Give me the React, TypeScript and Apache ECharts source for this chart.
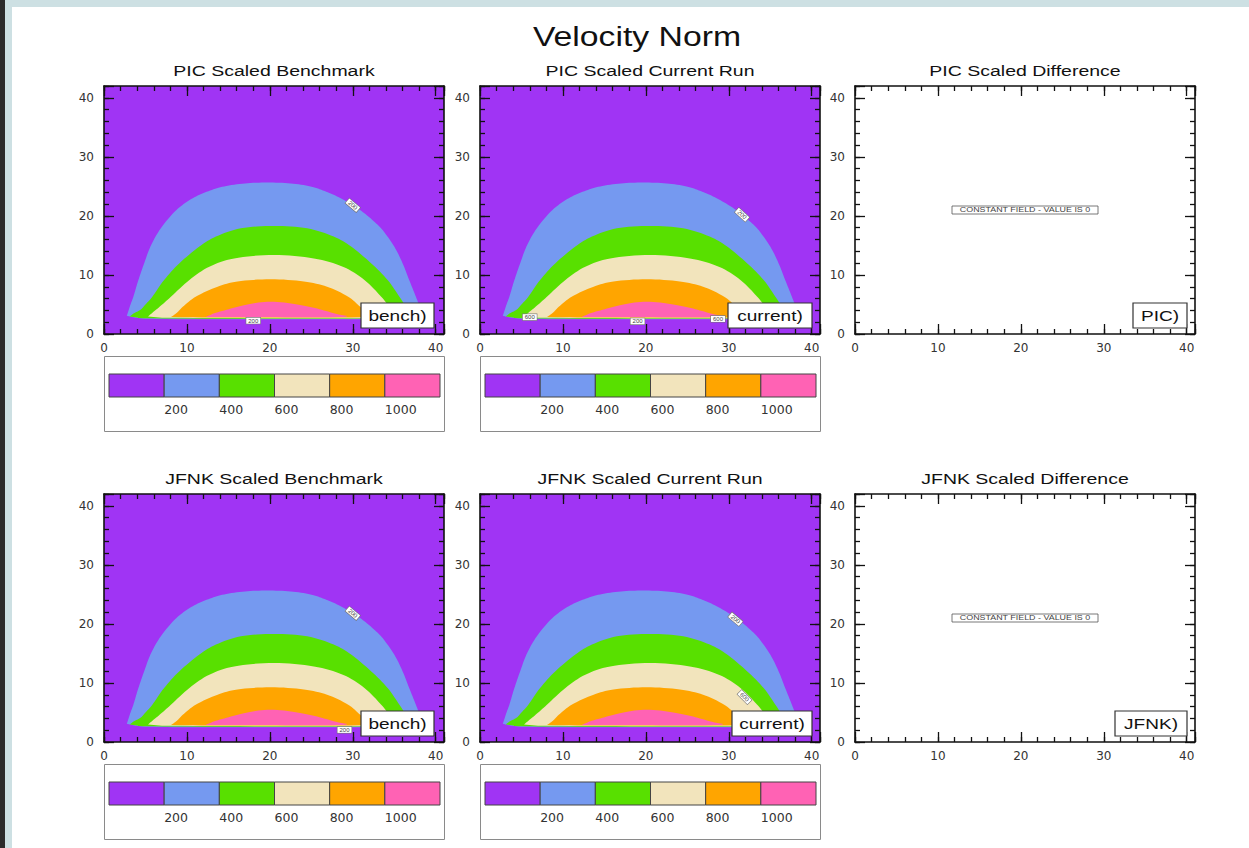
import { useEffect, useRef } from 'react';
import * as echarts from 'echarts';

// ---------------- data ----------------
const MAIN_TITLE = 'Velocity Norm';
const PANEL_TITLES = [
  'PIC Scaled Benchmark',
  'PIC Scaled Current Run',
  'PIC Scaled Difference',
  'JFNK Scaled Benchmark',
  'JFNK Scaled Current Run',
  'JFNK Scaled Difference',
];
const PANEL_TAGS = ['bench)', 'current)', 'PIC)', 'bench)', 'current)', 'JFNK)'];
const PANEL_HAS_FIELD = [true, true, false, true, true, false];
const CONSTANT_FIELD_TEXT = 'CONSTANT FIELD - VALUE IS 0';

const X_MAX = 41;
const Y_MAX = 42;
const MAJOR_STEP = 10;
const MINOR_STEP = 2;

const LEVELS = [200, 400, 600, 800, 1000];
const BAND_COLORS = ['#a034f4', '#7599f0', '#58e000', '#f2e4bc', '#ffa500', '#ff62b4'];
const COLORBAR_EDGES = [0, 200, 400, 600, 800, 1000, 1200];

// contour outlines (x, y): upper arc, then the bottom edge
const CONTOUR_200 = [
  [2.75, 3.1], [2.85, 3.5], [3.2, 5.0], [3.55, 6.35], [4.15, 9.15], [4.85, 12.0],
  [5.6, 14.8], [6.7, 17.6], [8.3, 20.4], [9.6, 22.0], [11.1, 23.3], [12.8, 24.3],
  [14.5, 25.0], [17.0, 25.5], [19.7, 25.65], [22.5, 25.5], [24.9, 25.0], [26.6, 24.2],
  [28.1, 23.3], [29.9, 21.9], [31.4, 20.45], [32.6, 19.0], [33.6, 17.6], [35.0, 14.8],
  [36.0, 12.0], [36.8, 9.15], [37.6, 6.35], [38.1, 4.5], [38.3, 3.3], [38.0, 2.6],
  [30.0, 2.5], [20.0, 2.48], [10.0, 2.5], [5.0, 2.6], [3.5, 2.85],
];
const CONTOUR_400 = [
  [3.1, 2.95], [3.6, 3.5], [4.4, 4.1], [5.0, 5.0], [5.85, 6.35], [7.25, 9.15],
  [9.1, 12.0], [11.5, 14.8], [13.5, 16.5], [16.5, 17.9], [20.5, 18.3], [24.5, 17.9],
  [27.7, 16.5], [29.8, 14.8], [32.2, 12.0], [34.2, 9.15], [35.6, 6.35], [36.4, 4.6],
  [36.8, 3.4], [36.5, 2.7], [20.0, 2.58], [6.0, 2.65], [4.0, 2.8],
];
const CONTOUR_600 = [
  [5.3, 2.95], [6.0, 3.8], [6.7, 4.6], [8.1, 6.35], [10.3, 9.15], [12.7, 11.4],
  [15.7, 12.8], [20.5, 13.4], [25.3, 12.8], [28.8, 11.4], [31.4, 9.15], [33.4, 6.35],
  [34.4, 4.6], [35.0, 3.3], [34.8, 2.75], [20.0, 2.68], [7.0, 2.75],
];
const CONTOUR_800 = [
  [8.1, 2.9], [8.8, 3.6], [9.5, 4.6], [11.1, 6.35], [13.7, 8.0], [16.1, 8.9],
  [20.1, 9.27], [24.1, 8.9], [26.9, 8.0], [29.4, 6.35], [30.9, 4.6], [31.8, 3.3],
  [31.9, 2.85], [20.0, 2.78], [10.0, 2.82],
];
const CONTOUR_1000 = [
  [12.3, 2.9], [13.3, 3.5], [15.3, 4.3], [17.3, 5.0], [20.1, 5.48], [23.3, 5.0],
  [25.7, 4.3], [27.7, 3.5], [28.9, 2.9], [20.0, 2.86],
];
const CONTOURS = [CONTOUR_200, CONTOUR_400, CONTOUR_600, CONTOUR_800, CONTOUR_1000];

// contour line labels: x, y, text, angle (deg)
const LABELS_PIC_BENCH: [number, number, string, number][] = [
  [30.0, 21.8, '200', -40], [18.0, 2.25, '200', 0],
];
const LABELS_PIC_CURRENT: [number, number, string, number][] = [
  [31.6, 20.2, '200', -42], [6.0, 2.85, '600', 0], [19.0, 2.15, '200', 0], [28.7, 2.55, '600', 0],
];
const LABELS_JFNK_BENCH: [number, number, string, number][] = [
  [30.0, 21.8, '200', -40], [29.0, 2.05, '200', 0],
];
const LABELS_JFNK_CURRENT: [number, number, string, number][] = [
  [30.8, 20.8, '200', -40], [31.9, 7.6, '600', -45],
];
const PANEL_LABELS = [LABELS_PIC_BENCH, LABELS_PIC_CURRENT, [], LABELS_JFNK_BENCH, LABELS_JFNK_CURRENT, []];

// ---------------- layout ----------------
const COL_LEFT = [104, 480, 855];
const ROW_TOP = [86, 494];
const PLOT_W = 340;
const PLOT_H = 248;
const TAG_W = [73, 84, 54, 73, 80, 72];
const STRETCH = 1.27;
const SANS = '"Liberation Sans", Arial, sans-serif';

// smooth drawing of a pixel-space outline (Catmull-Rom through the given points)
function smoothPath(pts: number[][], steps: number): number[][] {
  const out: number[][] = [];
  const n = pts.length;
  for (let i = 0; i < n - 1; i++) {
    const p0 = pts[Math.max(i - 1, 0)];
    const p1 = pts[i];
    const p2 = pts[i + 1];
    const p3 = pts[Math.min(i + 2, n - 1)];
    for (let s = 0; s < steps; s++) {
      const t = s / steps;
      const t2 = t * t;
      const t3 = t2 * t;
      const f = (a: number, b: number, c: number, d: number) =>
        0.5 * (2 * b + (-a + c) * t + (2 * a - 5 * b + 4 * c - d) * t2 + (-a + 3 * b - 3 * c + d) * t3);
      out.push([f(p0[0], p1[0], p2[0], p3[0]), f(p0[1], p1[1], p2[1], p3[1])]);
    }
  }
  out.push(pts[n - 1]);
  return out;
}

function buildOption() {
  const grid: any[] = [];
  const xAxis: any[] = [];
  const yAxis: any[] = [];
  const series: any[] = [];
  const graphic: any[] = [];

  // page strips
  graphic.push(
    { type: 'rect', shape: { x: 0, y: 0, width: 5, height: 848 }, style: { fill: '#2b2b2b' }, silent: true },
    { type: 'rect', shape: { x: 5, y: 0, width: 1244, height: 7 }, style: { fill: '#cde0e3' }, silent: true },
    { type: 'rect', shape: { x: 5, y: 0, width: 7, height: 848 }, style: { fill: '#cde0e3' }, silent: true },
  );
  graphic.push({
    type: 'text', x: 637, y: 36, scaleX: 1.25,
    style: { text: MAIN_TITLE, fontSize: 27, fontFamily: SANS, fill: '#111', align: 'center', verticalAlign: 'middle', textAlign: 'center', textVerticalAlign: 'middle' },
  });

  const makeAxis = (isX: boolean, gridIndex: number, position: string, interval: number, len: number, labels: boolean, line: boolean) => ({
    type: 'value', gridIndex, position, min: 0, max: isX ? X_MAX : Y_MAX, interval,
    axisLine: { show: line, onZero: false, lineStyle: { color: '#111', width: 1.6 } },
    axisTick: { show: true, inside: true, length: len, lineStyle: { color: '#111', width: 1.3 } },
    axisLabel: labels
      ? { show: true, margin: isX ? 8 : 10, fontFamily: '"DejaVu Sans", sans-serif', fontSize: 12, color: '#333',
          formatter: (v: number) => (v % MAJOR_STEP === 0 ? String(v) : '') }
      : { show: false },
    splitLine: { show: false },
    minorTick: { show: false },
  });

  for (let i = 0; i < 6; i++) {
    const r = Math.floor(i / 3);
    const c = i % 3;
    const left = COL_LEFT[c];
    const top = ROW_TOP[r];
    grid.push({ left, top, width: PLOT_W, height: PLOT_H, show: true, borderWidth: 0,
      backgroundColor: PANEL_HAS_FIELD[i] ? BAND_COLORS[0] : '#ffffff' });
    xAxis.push(
      makeAxis(true, i, 'bottom', MAJOR_STEP, 10, true, true),
      makeAxis(true, i, 'bottom', MINOR_STEP, 5, false, false),
      makeAxis(true, i, 'top', MAJOR_STEP, 10, false, true),
      makeAxis(true, i, 'top', MINOR_STEP, 5, false, false),
    );
    yAxis.push(
      makeAxis(false, i, 'left', MAJOR_STEP, 10, true, true),
      makeAxis(false, i, 'left', MINOR_STEP, 5, false, false),
      makeAxis(false, i, 'right', MAJOR_STEP, 10, false, true),
      makeAxis(false, i, 'right', MINOR_STEP, 5, false, false),
    );

    // panel title
    graphic.push({
      type: 'text', x: left + PLOT_W / 2, y: top - 15, scaleX: 1.3,
      style: { text: PANEL_TITLES[i], fontSize: 15, fontFamily: SANS, fill: '#111', align: 'center', verticalAlign: 'middle', textAlign: 'center', textVerticalAlign: 'middle' },
    });
    // tag box
    const tw = TAG_W[i];
    const tr = left + PLOT_W - (c === 0 ? 10 : 8);
    const tb = top + PLOT_H - 6;
    graphic.push(
      { type: 'rect', z: 10, shape: { x: tr - tw, y: tb - 25, width: tw, height: 25 }, style: { fill: '#fff', stroke: '#333', lineWidth: 1.2 } },
      { type: 'text', z: 11, x: tr - tw / 2, y: tb - 12, scaleX: STRETCH,
        style: { text: PANEL_TAGS[i], fontSize: 15, fontFamily: SANS, fill: '#111', align: 'center', verticalAlign: 'middle', textAlign: 'center', textVerticalAlign: 'middle' } },
    );

    if (PANEL_HAS_FIELD[i]) {
      series.push({
        type: 'custom', xAxisIndex: 4 * i, yAxisIndex: 4 * i, z: 2, clip: true, silent: true,
        data: CONTOURS.map((ct) => ct[0]),
        renderItem: (params: any, api: any) => {
          const pix = CONTOURS[params.dataIndex].map((p) => api.coord(p));
          return { type: 'polygon', shape: { points: smoothPath(pix, 8) }, style: { fill: BAND_COLORS[params.dataIndex + 1] } };
        },
      });
      const labs = PANEL_LABELS[i];
      series.push({
        type: 'custom', xAxisIndex: 4 * i, yAxisIndex: 4 * i, z: 3, clip: true, silent: true,
        data: labs.map((l) => [l[0], l[1]]),
        renderItem: (params: any, api: any) => {
          const l = labs[params.dataIndex];
          const p = api.coord([l[0], l[1]]);
          return {
            type: 'text', x: p[0], y: p[1], rotation: (l[3] * Math.PI) / 180,
            style: { text: l[2], fontSize: 6, fontFamily: SANS, fill: '#444', backgroundColor: '#ffffff', borderColor: '#777', borderWidth: 0.6, padding: [0, 2],
              align: 'center', verticalAlign: 'middle', textAlign: 'center', textVerticalAlign: 'middle' },
          };
        },
      });
    } else {
      const cx = left + PLOT_W / 2;
      const cy = top + 124;
      graphic.push(
        { type: 'rect', z: 10, shape: { x: cx - 73, y: cy - 4, width: 146, height: 8 }, style: { fill: '#fff', stroke: '#555', lineWidth: 0.8 } },
        { type: 'text', z: 11, x: cx, y: cy, scaleX: STRETCH,
          style: { text: CONSTANT_FIELD_TEXT, fontSize: 7, fontFamily: SANS, fill: '#444', align: 'center', verticalAlign: 'middle', textAlign: 'center', textVerticalAlign: 'middle' } },
      );
    }
  }

  // colour bars
  for (let r = 0; r < 2; r++) {
    for (let c = 0; c < 2; c++) {
      const gi = grid.length;
      const boxLeft = COL_LEFT[c];
      const boxTop = ROW_TOP[r] + 270;
      graphic.push({ type: 'rect', shape: { x: boxLeft + 0.5, y: boxTop + 0.5, width: 340, height: 75 }, style: { fill: 'none', stroke: '#8a8a8a', lineWidth: 1 } });
      grid.push({ left: boxLeft + 5, top: boxTop + 18, width: 331, height: 23 });
      xAxis.push({
        type: 'value', gridIndex: gi, min: COLORBAR_EDGES[0], max: COLORBAR_EDGES[COLORBAR_EDGES.length - 1], interval: 200,
        axisLine: { show: false }, axisTick: { show: false }, splitLine: { show: false },
        axisLabel: { show: true, margin: 6, align: 'left', fontFamily: '"DejaVu Sans", sans-serif', fontSize: 12.5, color: '#333',
          formatter: (v: number) => (LEVELS.indexOf(v) >= 0 ? String(v) : '') },
      });
      yAxis.push({ type: 'value', gridIndex: gi, min: 0, max: 1, show: false });
      const ai = xAxis.length - 1;
      series.push({
        type: 'custom', xAxisIndex: ai, yAxisIndex: ai, silent: true,
        data: BAND_COLORS.map((_, k) => [(COLORBAR_EDGES[k] + COLORBAR_EDGES[k + 1]) / 2, 0.5]),
        renderItem: (params: any, api: any) => {
          const k = params.dataIndex;
          const p0 = api.coord([COLORBAR_EDGES[k], 1]);
          const p1 = api.coord([COLORBAR_EDGES[k + 1], 0]);
          return { type: 'rect', shape: { x: p0[0], y: p0[1], width: p1[0] - p0[0], height: p1[1] - p0[1] },
            style: { fill: BAND_COLORS[k], stroke: '#444', lineWidth: 1 } };
        },
      });
    }
  }

  return { animation: false, backgroundColor: '#ffffff', grid, xAxis, yAxis, series, graphic };
}

export default function App() {
  const ref = useRef<HTMLDivElement>(null);
  useEffect(() => {
    if (!ref.current) return;
    const chart = echarts.init(ref.current, undefined, { renderer: 'svg' });
    chart.setOption(buildOption() as any);
    return () => chart.dispose();
  }, []);
  return <div ref={ref} style={{ position: 'fixed', left: 0, top: 0, width: 1249, height: 848 }} />;
}
